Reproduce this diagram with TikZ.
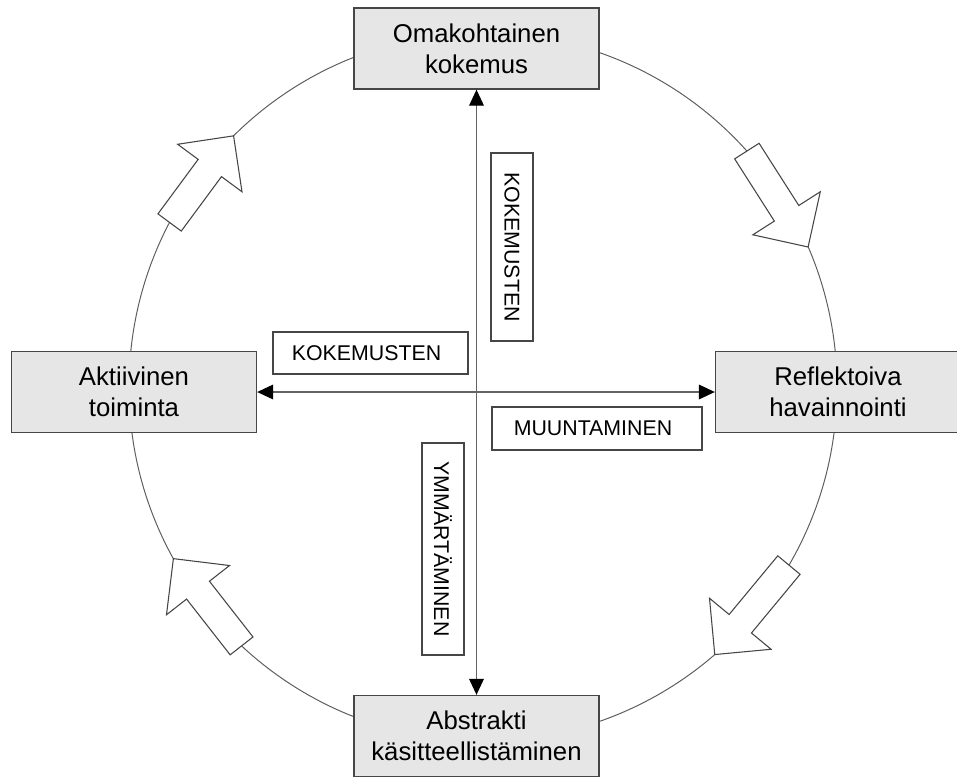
\documentclass[tikz,border=0pt]{standalone}
\usepackage{fontspec}
\setmainfont{Liberation Sans}
\usetikzlibrary{arrows.meta}
\definecolor{boxfill}{RGB}{230,230,230}
\definecolor{edgegray}{RGB}{70,70,70}
\definecolor{ringgray}{RGB}{95,95,95}
\definecolor{axisgray}{RGB}{100,100,100}

% hollow block arrow lying on the ring as a chord, from angle #1 (tail) to angle #2 (tip)
\newcommand\cyclearrow[2]{%
  \pgfmathsetmacro\halfspan{(#1-#2)/2}%
  \pgfmathsetmacro\midangle{(#1+#2)/2}%
  \pgfmathsetmacro\xo{354*cos(\halfspan)}%
  \pgfmathsetmacro\hh{354*sin(\halfspan)}%
  \begin{scope}[shift={(ring)}, rotate=\midangle]
    \draw[blockarrow] (\xo-14.5,\hh) -- (\xo-14.5,-\hh+40) -- (\xo-40,-\hh+40)
      -- (\xo,-\hh) -- (\xo+40,-\hh+40) -- (\xo+14.5,-\hh+40)
      -- (\xo+14.5,\hh) -- cycle;
  \end{scope}}

\begin{document}
\begin{tikzpicture}[x=0.75pt, y=0.75pt,
  stage/.style={draw=edgegray, line width=1pt, fill=boxfill,
    minimum width=245*0.75pt, minimum height=81*0.75pt, inner sep=0pt,
    align=center, font=\fontsize{19.3}{23.3}\selectfont},
  tag/.style={draw=edgegray, line width=0.9pt, fill=white, inner sep=0pt,
    font=\fontsize{16}{19}\selectfont},
  blockarrow/.style={draw=edgegray, line width=0.8pt, fill=white, line join=miter},
  axis/.style={draw=axisgray, line width=1pt,
    {Triangle[length=12pt,width=11pt,color=black]}-{Triangle[length=12pt,width=11pt,color=black]}}]

  \useasboundingbox (0,0) rectangle (957,-776);

  % the learning cycle ring
  \coordinate (ring) at (483,-387);
  \draw[ringgray, line width=0.75pt] (ring) circle[radius=354];

  % direction arrows on the ring (clockwise)
  \cyclearrow{152.3}{134.8}
  \cyclearrow{41.8}{23.3}
  \cyclearrow{-30.2}{-49.1}
  \cyclearrow{-133}{-151}

  % the four stages
  \node[stage] (top)    at (476.5,-48.5) {Omakohtainen\\kokemus};
  \node[stage] (bottom) at (476.5,-736)  {Abstrakti\\käsitteellistäminen};
  \node[stage] (left)   at (134,-392)    {Aktiivinen\\toiminta};
  \node[stage] (right)  at (838,-392)    {Reflektoiva\\havainnointi};

  % the two axes
  \draw[axis] (top.south) -- (bottom.north);
  \draw[axis] (left.east) -- (right.west);

  % axis labels
  \node[tag, minimum width=195*0.75pt, minimum height=42*0.75pt]
    (lblh) at (370.5,-353) {\hspace*{-6pt}KOKEMUSTEN};
  \node[tag, minimum width=210*0.75pt, minimum height=43*0.75pt]
    (lblm) at (597,-428.5) {\hspace*{-6pt}MUUNTAMINEN};
  \node[tag, rotate=-90, minimum width=188*0.75pt, minimum height=42*0.75pt]
    (lblv) at (512,-247) {KOKEMUSTEN};
  \node[tag, rotate=-90, minimum width=212*0.75pt, minimum height=42*0.75pt]
    (lbly) at (443,-549) {YMMÄRTÄMINEN};
\end{tikzpicture}
\end{document}
